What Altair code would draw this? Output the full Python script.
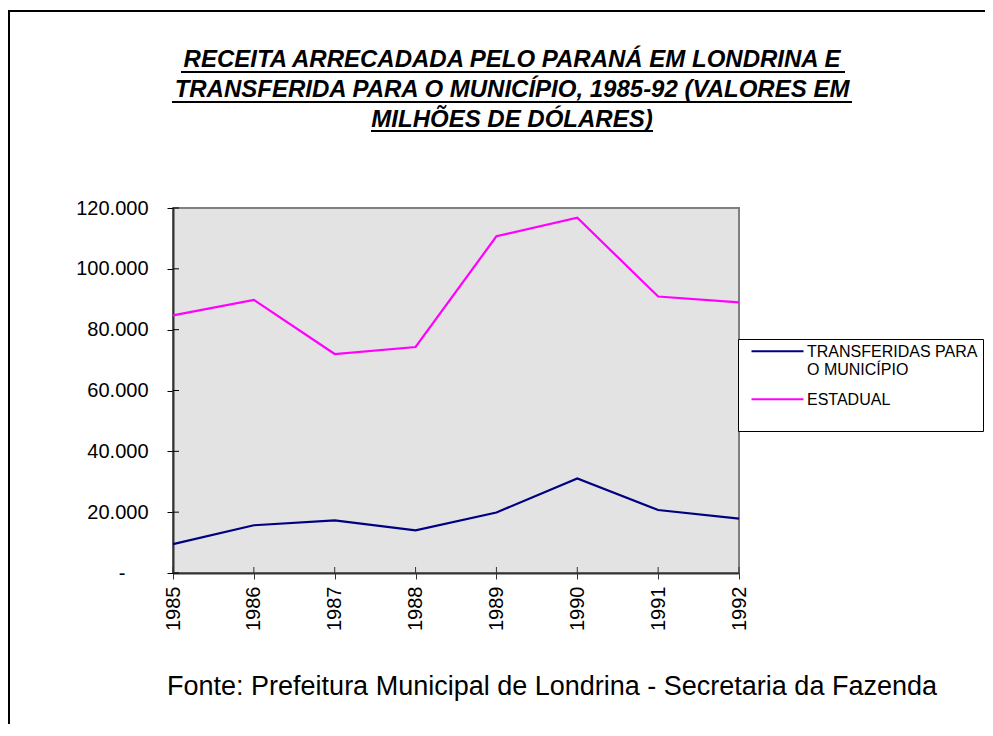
import altair as alt
import pandas as pd

years = [1985, 1986, 1987, 1988, 1989, 1990, 1991, 1992]
transferidas = [9500, 15700, 17300, 14000, 19900, 31100, 20700, 17900]
estadual = [84700, 89800, 72000, 74300, 110700, 116800, 90900, 89000]
series_names = ["TRANSFERIDAS PARA O MUNICÍPIO", "ESTADUAL"]
series_colors = ["#000080", "#FF00FF"]
y_ticks = [0, 20000, 40000, 60000, 80000, 100000, 120000]
title_lines = [
    "RECEITA ARRECADADA PELO PARANÁ EM LONDRINA E",
    "TRANSFERIDA PARA O MUNICÍPIO, 1985-92 (VALORES EM",
    "MILHÕES DE DÓLARES)",
]
source_text = "Fonte: Prefeitura Municipal de Londrina - Secretaria da Fazenda"

rows = []
for name, vals in zip(series_names, [transferidas, estadual]):
    for yr, v in zip(years, vals):
        rows.append({"ano": str(yr), "valor": v, "serie": name})
df = pd.DataFrame(rows)

W, H = 566, 365
PL, PT = 165, 200
TOTW, TOTH = 977, 716

one = pd.DataFrame({"k": [0]})

# outer frame of the figure (only top and left edges fall inside the page)
frame_top = alt.Chart(one).mark_rule(color="black", strokeWidth=2).encode(
    x=alt.value(-165), x2=alt.value(TOTW - PL), y=alt.value(-197))
frame_left = alt.Chart(one).mark_rule(color="black", strokeWidth=2).encode(
    x=alt.value(-164), y=alt.value(-198), y2=alt.value(TOTH - PT))

label_expr = (
    "datum.label == 'TRANSFERIDAS PARA O MUNICÍPIO' ? "
    "['TRANSFERIDAS PARA', 'O MUNICÍPIO'] : [datum.label, '']"
)

x_axis = alt.Axis(title=None, labelAngle=270, labelAlign="right",
                  labelBaseline="middle", labelFontSize=20,
                  labelPadding=7, tickSize=6, tickColor="#333333",
                  domainColor="#333333", domainWidth=2)
y_axis = alt.Axis(title=None, values=y_ticks, grid=False,
                  labelExpr="datum.value == 0 ? '-' : replace(format(datum.value, ',.0f'), ',', '.')",
                  labelFontSize=20,
                  labelPadding={"condition": {"test": "datum.value == 0", "value": 42}, "value": 19},
                  tickSize=6,
                  tickColor="black", domainColor="#333333", domainWidth=2)
x_scale = alt.Scale(type="point", padding=0)
y_scale = alt.Scale(domain=[0, 120000], nice=False)

lines = alt.Chart(df).mark_line(strokeWidth=2.2).encode(
    x=alt.X("ano:O", scale=x_scale, axis=x_axis),
    y=alt.Y("valor:Q", scale=y_scale, axis=y_axis),
    color=alt.Color("serie:N", sort=series_names,
                    scale=alt.Scale(domain=series_names, range=series_colors),
                    legend=alt.Legend(
                        title="\u00a0", titleOrient="top", titleFontSize=4,
                        titlePadding=0,
                        orient="none", legendX=565, legendY=131,
                        strokeColor="black", fillColor="white", padding=5,
                        symbolType="M-3.25,-0.71H3.25", symbolSize=256,
                        symbolStrokeWidth=2, symbolOffset=25.5,
                        labelFont="Liberation Sans", labelFontSize=16,
                        labelColor="black", labelBaseline="alphabetic",
                        labelOffset=20.5, labelLimit=400,
                        labelExpr=label_expr, rowPadding=14)),
)

# inner halves of the crossing tick marks (Excel style)
ytick_in = alt.Chart(pd.DataFrame({"valor": y_ticks})).mark_rule(
    color="black", strokeWidth=1).encode(
    y=alt.Y("valor:Q", scale=y_scale, axis=y_axis), x=alt.value(0), x2=alt.value(6))
xtick_in = alt.Chart(pd.DataFrame({"ano": [str(y) for y in years]})).mark_rule(
    color="#333333", strokeWidth=1).encode(
    x=alt.X("ano:O", scale=x_scale, axis=x_axis), y=alt.value(H - 6), y2=alt.value(H))

underline_df = pd.DataFrame({
    "x1": [8, -1, 198], "x2": [672, 679, 480], "yy": [-136, -106, -77]
})
underlines = alt.layer(*[
    alt.Chart(one).mark_rule(color="black", strokeWidth=2).encode(
        x=alt.value(r.x1), x2=alt.value(r.x2), y=alt.value(r.yy))
    for r in underline_df.itertuples()
])

title = alt.Chart(one).mark_text(
    font="Liberation Sans", fontSize=24, fontWeight="bold", fontStyle="italic",
    align="center", baseline="alphabetic", lineHeight=30, color="black").encode(
    x=alt.value(339), y=alt.value(-141), text=alt.value(title_lines))

source = alt.Chart(one).mark_text(
    font="Liberation Sans", fontSize=27, align="center", baseline="alphabetic",
    color="black").encode(
    x=alt.value(379), y=alt.value(487), text=alt.value(source_text))

chart = alt.layer(frame_top, frame_left, lines, ytick_in, xtick_in,
                  underlines, title, source).properties(
    width=W, height=H,
    autosize=alt.AutoSizeParams(type="none"),
    padding={"left": PL, "top": PT, "right": TOTW - PL - W, "bottom": TOTH - PT - H},
    background="white",
).configure_view(fill="#E3E3E3", stroke="#808080", strokeWidth=2).configure_axis(
    labelFont="Liberation Sans", labelColor="black"
)

chart.save("out.html", embed_options={"renderer": "svg", "actions": False})
